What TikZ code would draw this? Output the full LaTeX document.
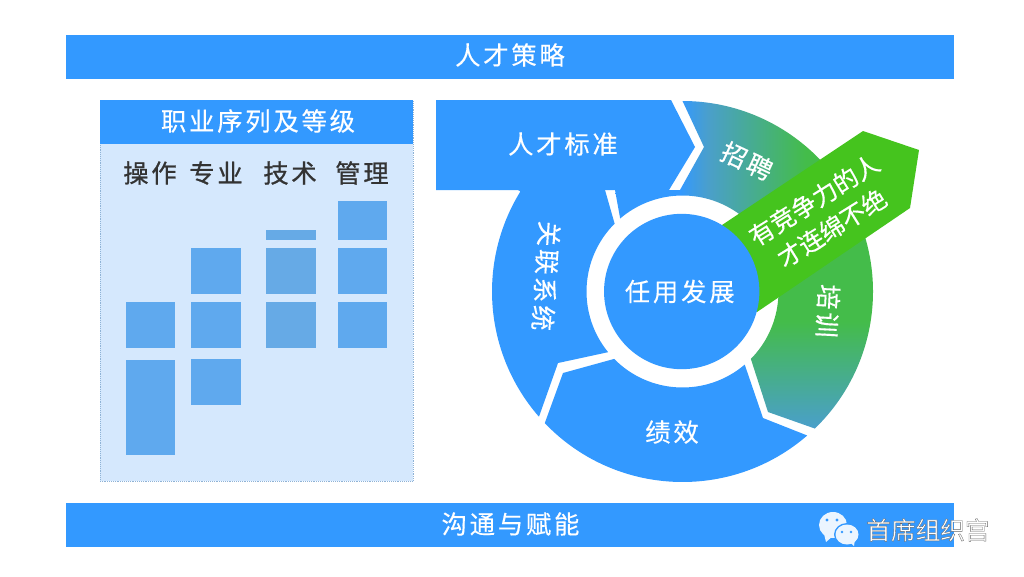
\documentclass[tikz,border=0pt]{standalone}
\usepackage{fontspec}
\usetikzlibrary{calc}
\newfontfamily\cjkwide[LetterSpace=11,FakeBold=0.35]{Noto Sans CJK SC}
\newfontfamily\cjkhead[LetterSpace=11,FakeBold=0.9]{Noto Sans CJK SC}
\newfontfamily\cjkmid[FakeBold=0.35]{Noto Sans CJK SC}
\newfontfamily\cjkplain{Noto Sans CJK SC}
\definecolor{mainblue}{HTML}{3399FF}
\definecolor{panelblue}{HTML}{D5E8FD}
\definecolor{levelblue}{HTML}{5FA9EE}
\definecolor{levelblueb}{HTML}{66AAE6}
\definecolor{arrowgreen}{HTML}{45C41E}
\definecolor{arcgreen}{HTML}{44BC4A}
\definecolor{arcteal}{HTML}{4A9FCB}
\definecolor{darktext}{HTML}{333333}
\definecolor{panelline}{HTML}{8FB3D6}
\pgfdeclarehorizontalshading{recruitshade}{100bp}{color(0bp)=(mainblue); color(39bp)=(mainblue); color(45bp)=(arcteal); color(66bp)=(arcgreen); color(100bp)=(arcgreen)}
\pgfdeclareverticalshading{trainshade}{100bp}{color(0bp)=(arcteal); color(25bp)=(arcteal); color(48bp)=(arcgreen); color(100bp)=(arcgreen)}
\tikzset{
  x=0.75pt,y=-0.75pt,
  bartext/.style={text=white,font=\cjkwide\fontsize{19}{19}\selectfont,inner sep=0pt},
  headtext/.style={text=darktext,font=\cjkhead\fontsize{19}{19}\selectfont,inner sep=0pt},
  level/.style={fill=levelblue},
  levelb/.style={fill=levelblueb},
  seg/.style={fill=mainblue},
}
\begin{document}
\begin{tikzpicture}
\useasboundingbox (0,0) rectangle (1024,576);
\fill[white] (0,0) rectangle (1024,576);
% bars
\fill[mainblue] (66,35) rectangle (954,78.5);
\fill[mainblue] (66,503) rectangle (954,546.5);
\node[bartext] (top) at (510,55) {人才策略};
\node[bartext] (bottom) at (510.5,524) {沟通与赋能};
% left panel
\draw[fill=panelblue,draw=panelline,line width=0.4pt,densely dotted] (100,100) rectangle (413,481);
\fill[mainblue] (100,100) rectangle (413,144);
\node[bartext] (panelhead) at (258,121) {职业序列及等级};
\node[headtext] (c1) at (150,173) {操作};
\node[headtext] (c2) at (216,173) {专业};
\node[headtext] (c3) at (290,173) {技术};
\node[headtext] (c4) at (362,173) {管理};
\fill[level] (125.7,302) rectangle (175,348.3);
\fill[level] (125.7,360) rectangle (175,455);
\fill[level] (191,248) rectangle (240.7,294);
\fill[level] (191,302) rectangle (240.7,348.3);
\fill[level] (191,359) rectangle (240.7,405);
\fill[levelb] (266,230) rectangle (315.7,240);
\fill[levelb] (266,248) rectangle (315.7,294);
\fill[levelb] (266,302) rectangle (315.7,348.3);
\fill[level] (337.7,201) rectangle (387,240);
\fill[level] (337.7,248) rectangle (387,294);
\fill[level] (337.7,302) rectangle (387,348.3);
% cycle
\coordinate (c) at (682.5,291.5);
\coordinate (d) at (681.7,291.5);
% recruit
\path[shading=recruitshade] (c) ++(-90:190.5) arc[start angle=-90,end angle=-30,radius=190.5]
  -- ($(c)+(-30:96)$) arc[start angle=-30,end angle=-130.5,radius=96]
  -- (615,190) -- (680,190) -- (704,147) -- cycle;
% train
\path[shading=trainshade] (c) ++(-30:190.5) arc[start angle=-30,end angle=46,radius=190.5]
  -- (768,412) -- ($(c)+(44.6:96)$) arc[start angle=44.6,end angle=-30,radius=96] -- cycle;
% standard arrow
\fill[seg] (436,100) -- (671,100) -- (695,147) -- (669,190) -- (436,190) -- cycle;
% related systems
\fill[seg] (518,190) -- (605,190) -- ($(c)+(225:96)$) arc[start angle=225,end angle=140.8,radius=96]
  -- (558,363) -- ($(c)+(138.9:190.5)$) arc[start angle=138.9,end angle=211.7,radius=190.5] -- cycle;
% performance
\fill[seg] ($(c)+(136.3:190.5)$) -- (563,373) -- ($(c)+(135.4:96)$) arc[start angle=135.4,end angle=49.6,radius=96]
  -- (763,418) -- ($(c)+(49.1:190.5)$) arc[start angle=49.1,end angle=136.3,radius=190.5] -- cycle;
% green arrow
\fill[arrowgreen] (722,225) -- (863,131) -- (919,150) -- (910,208) -- (757,312) -- (700,300) -- cycle;
% disc
\node[circle,fill=mainblue,minimum size=116.5pt,inner sep=0pt,bartext] (core) at (d) {\kern-3pt任用发展};
% labels
\node[bartext] (std) at (563,144) {人才标准};
\node[bartext,rotate=-25] (recruit) at (747,161) {招聘};
\node[bartext,rotate=-93] (train) at (828,311) {培训};
\node[bartext] (perf) at (672,432) {绩效};
\node[bartext,rotate=-94] (rel) at (546,276) {关联系统};
\node[text=white,font=\cjkmid\fontsize{18.5}{25}\selectfont,inner sep=0pt,rotate=32,align=center] (talent) at (823,214) {有竞争力的人\\才连绵不绝};
% watermark
\fill[white!90!mainblue] (833,525) ellipse [x radius=14,y radius=13];
\fill[white!90!mainblue] (824,534) -- (826,542) -- (833,536) -- cycle;
\fill[mainblue] (847,534.5) ellipse [x radius=13,y radius=11.5];
\fill[white!90!mainblue] (847,534.5) ellipse [x radius=11.5,y radius=10];
\fill[white!90!mainblue] (850,542) -- (854,546) -- (855,539) -- cycle;
\fill[mainblue] (827,520) circle (1.6) (837,520) circle (1.6) (842,532) circle (1.4) (851,532) circle (1.4);
\node[text=white,font=\cjkplain\fontsize{18.5}{18.5}\selectfont,inner sep=0pt,anchor=west] (mark) at (866,530) {\special{pdf:code 2 Tr 0.25 w 0.4 G}首席组织宫\special{pdf:code 0 Tr}};
\end{tikzpicture}
\end{document}
